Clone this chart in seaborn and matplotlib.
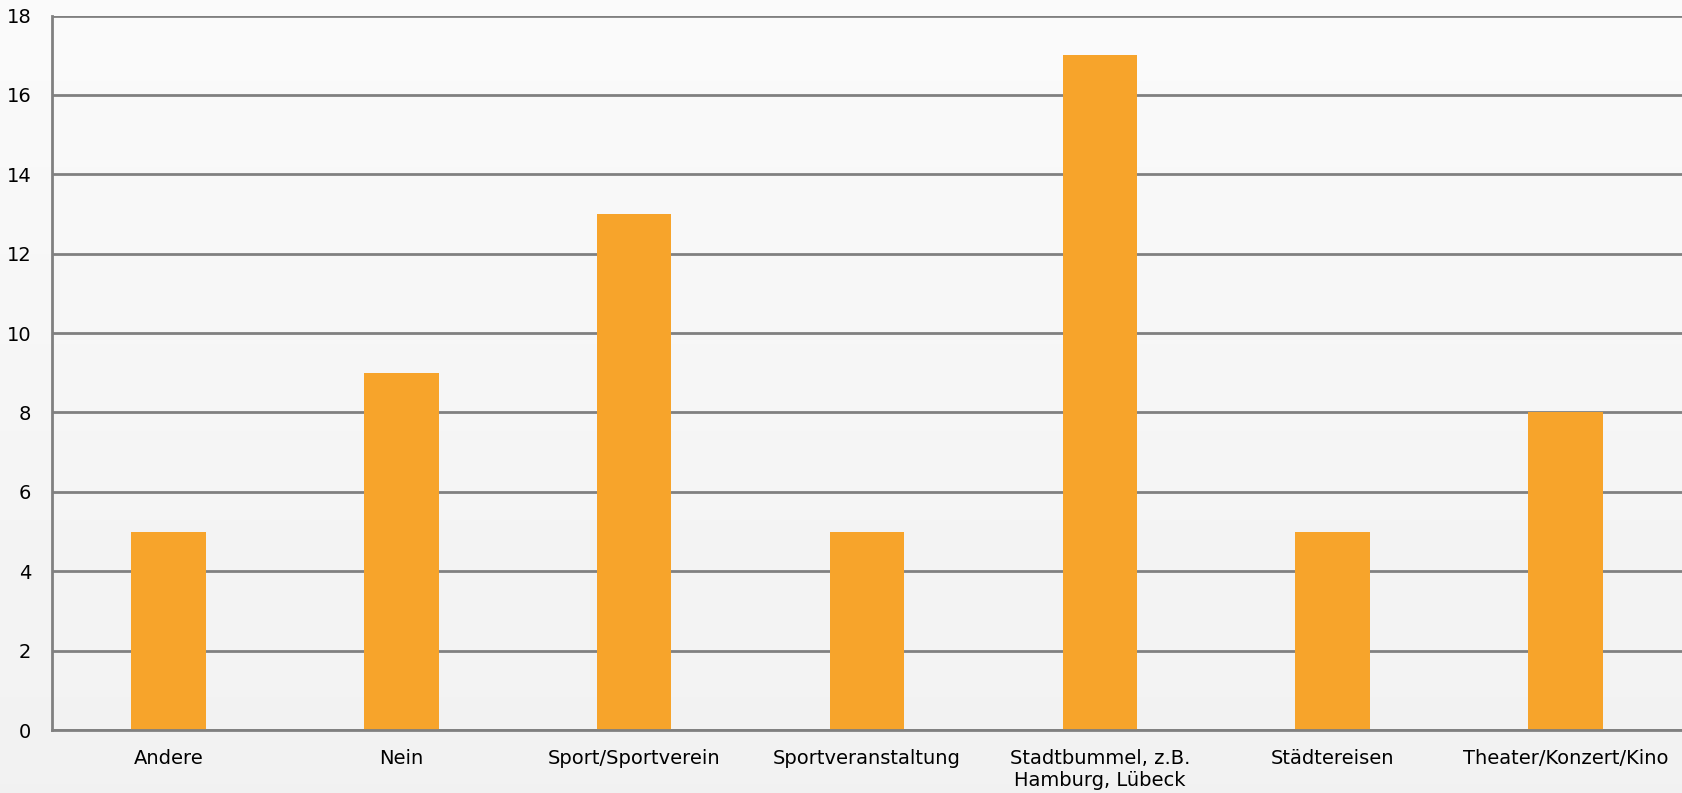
import numpy as np
import pandas as pd
import matplotlib
matplotlib.use("Agg")
import matplotlib.pyplot as plt
import seaborn as sns

categories = ["Andere", "Nein", "Sport/Sportverein", "Sportveranstaltung",
              "Stadtbummel, z.B.\nHamburg, Lübeck", "Städtereisen",
              "Theater/Konzert/Kino"]
counts = [5, 9, 13, 5, 17, 5, 8]
y_ticks = [0, 2, 4, 6, 8, 10, 12, 14, 16, 18]

df = pd.DataFrame({"category": categories, "count": counts})

sns.set_style("white")
plt.rcParams['font.family'] = ['DejaVu Sans']

fig = plt.figure(figsize=(16.82, 7.93), dpi=100)

# gradient background across the whole figure
bg = fig.add_axes([0, 0, 1, 1], zorder=-1)
grad = np.linspace(0.98, 0.945, 256).reshape(-1, 1)
bg.imshow(grad, aspect="auto", cmap="gray", vmin=0, vmax=1, extent=[0, 1, 0, 1])
bg.axis("off")

ax = fig.add_axes([52 / 1682, 1 - 730 / 793, 1 - 52 / 1682, (730 - 15.5) / 793])
ax.set_facecolor("none")

sns.barplot(data=df, x="category", y="count", color="#F7A42B", saturation=1,
            width=0.32, linewidth=0, ax=ax, zorder=3)

ax.set_ylim(0, 18)
ax.set_xlim(-0.5, 6.5)
ax.set_yticks(y_ticks)
ax.yaxis.grid(True, color="#808080", linewidth=2)
ax.set_axisbelow(True)
ax.set_xlabel("")
ax.set_ylabel("")

for side in ["top", "right"]:
    ax.spines[side].set_visible(False)
for side in ["left", "bottom"]:
    ax.spines[side].set_color("#808080")
    ax.spines[side].set_linewidth(2)
    ax.spines[side].set_zorder(4)

ax.tick_params(axis="both", length=0, labelsize=14, colors="black")
ax.tick_params(axis="y", pad=15)
ax.tick_params(axis="x", pad=14)

fig.savefig("out.png", dpi=100)
